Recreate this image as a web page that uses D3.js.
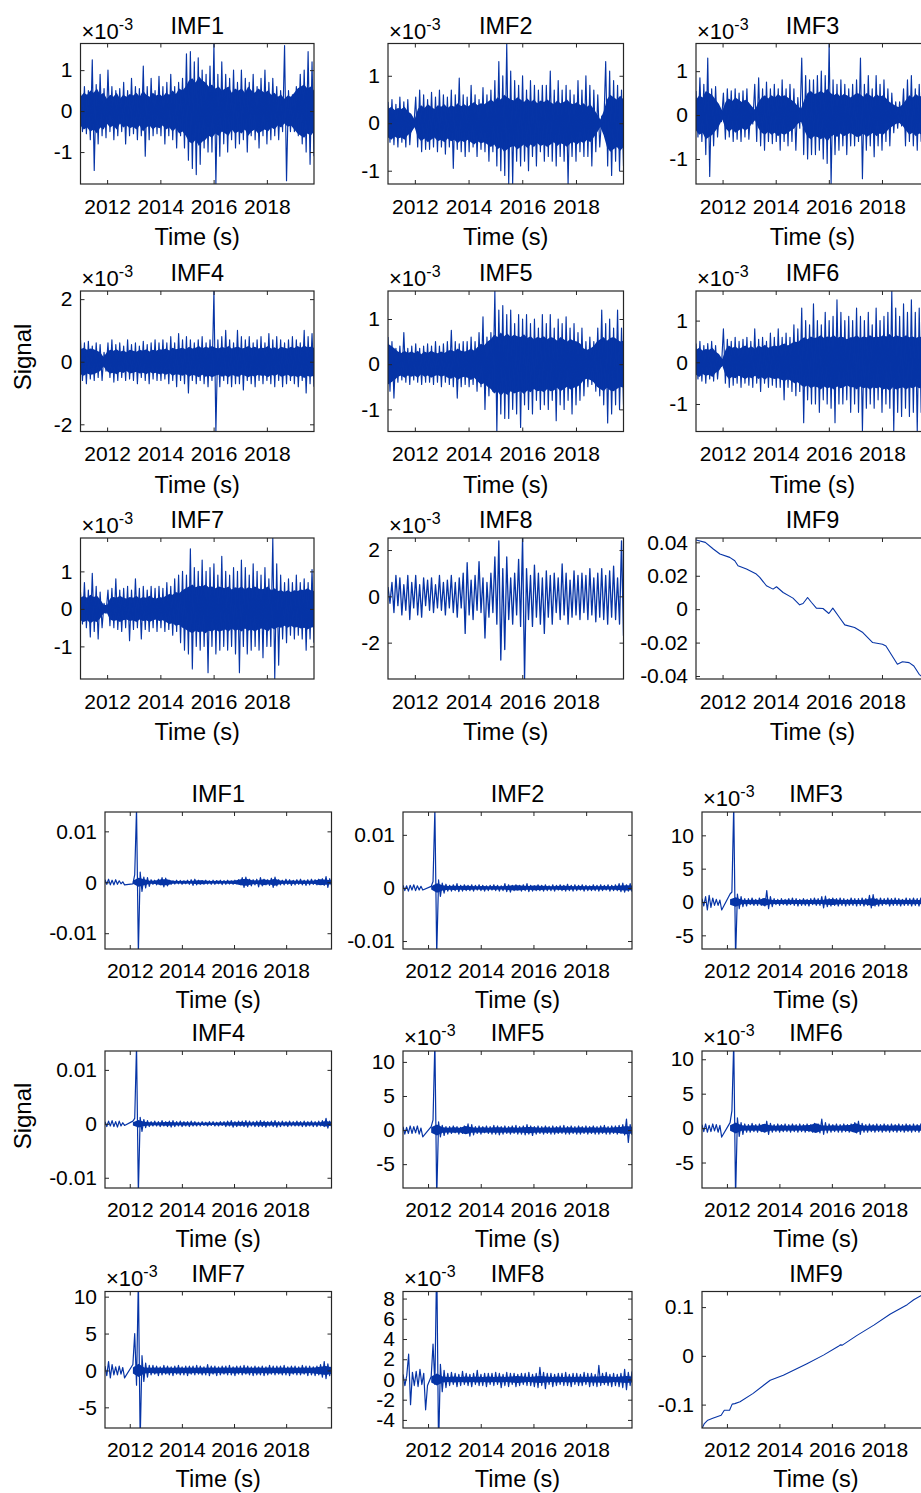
<!DOCTYPE html>
<html><head><meta charset="utf-8">
<script src="https://cdn.jsdelivr.net/npm/d3@7"></script>
<style>
body{margin:0;background:#fff}
text{font-family:"Liberation Sans",Arial,Helvetica,sans-serif;fill:#000}
</style>
</head><body>
<svg id="c" width="921" height="1493"></svg>
<script>
// ---------------- DATA ----------------
const xTickValues = [2012, 2014, 2016, 2018];
const xTickLabels = ["2012", "2014", "2016", "2018"];
const topRange = [2011.0, 2019.77];
const botRange = [2011.05, 2019.74];

// Top block (x10^-3 unless noted), evenly sampled over topRange: extremes (spikes) ...
const topIMF1 = [
 .45,-.5, .6,-.55, .5,-.7, 1.25,-1.45, .65,-.8, .9,-.6, .55,-.65, 1.0,-.5, .6,-.7, .5,-.6,
 .55,-.5, .7,-.8, .5,-.6, .8,-.55, .6,-.7, .55,-.6, 1.1,-1.1, .6,-.7, .8,-.6, .5,-.55,
 .85,-.6, .6,-.8, .7,-.6, .9,-.7, .6,-.9, .7,-.6, .8,-.9, 1.4,-1.2, 1.45,-1.4, 1.2,-1.55,
 1.3,-1.3, 1.0,-.9, .9,-1.0, 1.1,-1.0, 1.65,-1.78, .9,-1.1, 1.2,-.8, .9,-1.0, .8,-.7, 1.0,-.9,
 .7,-.8, 1.0,-.7, .8,-1.0, .7,-.6, .9,-.7, .6,-.9, .8,-.6, 1.0,-.8, .7,-.7, .8,-.6,
 .6,-.7, .5,-.5, 1.6,-1.7, .5,-.5, .4,-.5, .6,-.6, .9,-.8, 1.0,-1.0, 1.45,-1.3, 1.2,-1.1];
const topIMF2 = [
 .45,-.4, .5,-.45, .4,-.5, .55,-.4, .45,-.5, .5,-.45, .12,-.1, .55,-.5, .7,-.6, .6,-.55,
 .5,-.55, .65,-.5, .55,-.6, .7,-.5, .6,-.65, .55,-.5, .7,-.95, .6,-.55, .95,-.6, .6,-.7,
 .55,-.6, .8,-.5, .6,-.7, .5,-.55, .75,-.6, .6,-.8, .7,-.6, .9,-.9, 1.3,-1.0, 1.0,-1.1,
 1.68,-1.28, 1.1,-1.28, .9,-.8, .8,-.9, 1.0,-.8, .7,-1.0, .9,-.7, .8,-.9, .7,-.6, .8,-.8,
 .8,-.7, 1.1,-.8, .7,-.9, .9,-.7, .7,-.8, .8,-1.28, .7,-.7, .6,-.8, .9,-.6, .7,-.7,
 1.0,-.7, .8,-.9, .7,-.6, .6,-.5, .15,-.12, 1.3,-.9, 1.1,-1.1, .9,-.8, .8,-1.0, .7,-.9];
const topIMF3 = [
 .55,-.5, .85,-.6, .7,-.9, 1.3,-1.4, .6,-.7, .65,-.5, .15,-.15, .5,-.55, .6,-.5, .55,-.6,
 .6,-.55, .5,-.6, .55,-.5, .6,-.55, .2,-.2, .7,-.6, .85,-.7, .6,-.8, .75,-.6, .6,-.65,
 .7,-.6, .6,-.8, .8,-.6, .6,-.7, .7,-.6, .6,-.8, .4,-.3, 1.3,-.9, .9,-1.0, .8,-.9,
 .8,-.9, .9,-.8, 1.0,-1.0, .9,-1.1, 1.63,-1.57, .8,-.9, .7,-.8, .8,-.7, .7,-.9, .6,-.7,
 .7,-.7, .8,-.6, 1.3,-1.45, .7,-.8, .9,-.7, .6,-.95, .9,-.7, .7,-.8, .8,-.6, .6,-.7,
 .5,-.4, .3,-.3, .3,-.25, .6,-.7, .8,-.6, .9,-.7, .6,-.8, .7,-.6, .8,-.9, .7,-.7];
const topIMF4 = [
 .7,-.6, .6,-.7, .65,-.55, .5,-.6, .6,-.5, .55,-.6, .3,-.3, .6,-.5, .7,-.65, .55,-.6,
 .6,-.5, .5,-.6, .7,-.55, .55,-.6, .6,-.7, .5,-.5, .65,-.6, .55,-.7, .6,-.55, .7,-.6,
 .6,-.6, .7,-.55, .6,-.7, .8,-.6, .6,-.8, .9,-.6, .7,-.7, .8,-1.0, .7,-.6, .6,-.7,
 .7,-.6, .8,-.7, .6,-.8, .7,-.6, 2.26,-2.23, .7,-.8, .8,-.6, 1.0,-.7, .7,-.8, .6,-.7,
 1.0,-.7, .8,-.9, .7,-.6, .8,-.7, .6,-.8, .7,-.6, .8,-.7, .6,-.6, .9,-.7, .7,-.8,
 .8,-.6, .7,-.8, .6,-.7, .7,-.6, .8,-.7, .7,-.8, .6,-.6, 1.0,-1.0, .8,-.7, .9,-.8];
const topIMF5 = [
 .6,-.6, .5,-.75, .35,-.4, .4,-.35, .7,-.4, .35,-.45, .4,-.35, .45,-.4, .35,-.45, .4,-.4,
 .45,-.4, .4,-.45, .5,-.4, .4,-.5, .45,-.4, .5,-.45, .75,-.5, .5,-.75, .45,-.5, .5,-.45,
 .5,-.5, .6,-.45, .5,-.6, .7,-.5, 1.05,-1.0, .6,-.7, .7,-.6, 1.62,-1.49, 1.2,-1.1, 1.3,-1.2,
 1.1,-1.2, 1.2,-1.0, .9,-1.1, 1.1,-1.4, 1.0,-.9, 1.1,-1.0, .9,-1.1, 1.0,-.8, .8,-1.0, 1.1,-.9,
 .9,-1.0, 1.1,-.8, .8,-1.25, 1.0,-.9, .9,-1.0, 1.05,-.8, .8,-1.1, .9,-.9, .7,-.8, .8,-.7,
 .5,-.5, .6,-.45, .5,-.6, .8,-.7, 1.2,-.9, .9,-1.3, 1.0,-1.1, .8,-.9, 1.2,-1.0, .8,-.9];
const topIMF6 = [
 .45,-.4, .5,-.45, .4,-.5, .45,-.4, .5,-.45, .4,-.4, .12,-.1, .8,-.5, .55,-.6, .5,-.55,
 .6,-.5, .5,-.6, .55,-.5, .6,-.55, .5,-.6, .8,-.5, .55,-.7, .6,-.5, .5,-.6, .7,-.55,
 .6,-.6, .8,-.6, .6,-.9, .7,-.6, .6,-.7, .9,-.8, .8,-.7, 1.3,-1.45, 1.0,-.9, .9,-1.0,
 1.4,-1.0, 1.0,-1.2, .9,-.9, 1.2,-1.0, 1.0,-1.1, 1.1,-1.45, 1.5,-1.0, 1.2,-1.0, 1.0,-.9, 1.1,-1.2,
 1.0,-1.0, 1.3,-1.2, 1.1,-1.66, 1.0,-1.1, 1.2,-1.0, .9,-1.1, 1.3,-.9, 1.0,-1.2, 1.1,-1.0, 1.2,-1.1,
 1.71,-1.66, 1.3,-1.2, 1.1,-1.3, 1.4,-1.1, 1.2,-1.3, 1.5,-1.2, 1.2,-1.66, 1.3,-1.2, 1.0,-1.1, 1.2,-1.0];
const topIMF7 = [
 .45,-.4, .7,-.5, .5,-.75, .95,-.6, .6,-.8, .45,-.5, .15,-.12, .5,-.45, .55,-.5, .8,-.55,
 .5,-.6, .55,-.5, .6,-.85, .5,-.55, .8,-.5, .55,-.8, .6,-.55, .5,-.6, .6,-.5, .55,-.6,
 .6,-.5, .55,-.6, .7,-.55, .6,-.7, .8,-.6, .9,-.9, 1.0,-1.1, .9,-1.2, 1.6,-1.6, 1.1,-1.0,
 1.0,-1.1, 1.3,-1.0, 1.0,-1.7, 1.1,-1.0, 1.2,-1.2, .9,-1.1, 1.4,-1.0, 1.0,-1.1, .9,-1.0, 1.1,-1.2,
 1.0,-1.7, 1.3,-1.0, 1.1,-1.2, .9,-1.1, 1.2,-1.0, 1.0,-1.1, .9,-1.3, 1.1,-1.0, .8,-1.0, 1.89,-1.87,
 1.2,-1.5, .9,-.8, .7,-.9, .8,-.7, .7,-.8, .9,-.7, .7,-.8, .8,-1.1, .7,-.8, 1.05,-.9];
// ... and the half-width of the dense core band, every eighth of a year
const topIMF1Core = [.35,.45,.4,.5,.45,.55,.4,.45, .3,.4,.35,.45,.3,.4,.35,.42, .38,.45,.35,.5,.4,.35,.45,.38,
 .42,.35,.45,.4,.5,.42,.55,.5, .6,.75,.8,.7,.85,.75,.7,.6, .65,.55,.6,.5,.55,.6,.45,.55,
 .5,.55,.45,.6,.5,.45,.55,.5, .45,.5,.4,.45,.35,.4,.3,.38, .35,.45,.55,.6,.65,.55,.6,.5];
const topIMF2Core = [.3,.35,.28,.32,.3,.35,.25,.2, .08,.3,.38,.32,.4,.35,.3,.38, .35,.4,.32,.38,.35,.42,.36,.4,
 .35,.4,.45,.38,.42,.4,.45,.5, .45,.55,.5,.6,.55,.5,.48,.55, .5,.45,.52,.45,.5,.42,.48,.45,
 .5,.45,.4,.48,.42,.45,.5,.42, .4,.45,.38,.42,.35,.4,.3,.2, .08,.25,.5,.6,.55,.5,.58,.5];
const topIMF3Core = [.35,.45,.4,.55,.5,.45,.35,.25, .1,.3,.38,.32,.4,.35,.3,.35, .3,.2,.12,.3,.4,.45,.38,.45,
 .4,.48,.42,.45,.4,.35,.3,.2, .15,.35,.5,.55,.48,.5,.55,.5, .6,.5,.45,.5,.42,.48,.45,.4,
 .45,.5,.48,.42,.5,.45,.4,.48, .42,.45,.38,.3,.25,.2,.18,.25, .35,.45,.4,.48,.42,.45,.4,.45];
const topIMF4Core = [.4,.45,.38,.42,.4,.35,.3,.15, .3,.38,.35,.4,.32,.36,.3,.38, .35,.32,.38,.35,.4,.33,.38,.35,
 .4,.38,.42,.36,.45,.4,.42,.45, .4,.48,.42,.45,.5,.42,.48,.45, .5,.45,.42,.48,.44,.5,.42,.46,
 .48,.42,.45,.5,.44,.48,.42,.45, .44,.5,.42,.46,.4,.48,.45,.42, .48,.44,.5,.45,.52,.46,.48,.45];
const topIMF5Core = [.45,.4,.35,.28,.25,.3,.25,.28, .25,.3,.22,.28,.25,.3,.26,.24, .28,.25,.3,.32,.28,.35,.3,.28,
 .3,.35,.3,.38,.45,.42,.5,.55, .65,.6,.7,.62,.68,.6,.65,.62, .6,.66,.58,.62,.55,.6,.58,.62,
 .55,.6,.58,.52,.6,.55,.5,.56, .52,.5,.45,.35,.32,.35,.4,.5, .55,.6,.52,.58,.6,.55,.5,.52];
const topIMF6Core = [.3,.35,.28,.32,.3,.35,.25,.2, .08,.3,.4,.35,.38,.32,.36,.4, .35,.38,.32,.4,.36,.42,.35,.38,
 .4,.38,.42,.45,.4,.45,.5,.48, .55,.6,.55,.62,.58,.6,.65,.58, .62,.6,.65,.58,.62,.6,.55,.6,
 .6,.65,.58,.62,.6,.65,.6,.62, .6,.65,.62,.68,.6,.65,.62,.6, .65,.6,.62,.58,.62,.6,.65,.6];
const topIMF7Core = [.3,.35,.3,.38,.32,.35,.25,.12, .1,.28,.32,.3,.35,.3,.28,.32, .3,.35,.28,.32,.3,.35,.3,.28,
 .32,.3,.35,.4,.38,.45,.42,.5, .55,.6,.65,.58,.62,.6,.65,.58, .6,.55,.6,.58,.55,.6,.52,.58,
 .55,.6,.52,.58,.55,.6,.55,.52, .55,.6,.5,.55,.48,.5,.45,.5, .45,.5,.48,.52,.5,.55,.5,.48];
const topIMF8 = [
 .4,-.3, .6,-.7, .9,-.4, .8,-.8, .5,-.6, .9,-1.0, .6,-.5, .9,-.8, .5,-.9, .8,-.4,
 .7,-.6, .8,-.7, .5,-.5, .9,-.6, .6,-.8, .7,-.5, .9,-.7, .6,-.9, .8,-.5, 1.0,-1.6,
 1.45,-.8, .7,-1.0, .9,-.6, 1.5,-.7, .8,-1.8, .6,-.9, 1.0,-.7, 1.7,-1.2, 2.4,-2.75, 1.2,-2.3,
 1.7,-1.0, .8,-1.2, 1.0,-.8, 1.6,-1.3, 2.52,-3.57, 1.2,-1.0, .9,-1.3, 1.35,-.9, 1.0,-1.2, .8,-1.6,
 1.1,-.9, .9,-1.2, 1.0,-.7, .8,-1.0, 1.4,-.8, 1.0,-1.2, .7,-.9, 1.1,-.8, .9,-1.0, 1.0,-.7,
 .9,-1.0, 1.2,-.8, .8,-1.1, 1.0,-.9, 1.2,-1.0, .9,-1.2, 1.1,-.9, 1.3,-1.0, .8,-1.2, 2.4,-1.7];
const topIMF9Time = [2011.0, 2011.35, 2011.65, 2011.9, 2012.27, 2012.46, 2012.58, 2012.9, 2013.27, 2013.4,
 2013.65, 2013.9, 2014.03, 2014.28, 2014.65, 2014.9, 2015.03, 2015.2, 2015.35, 2015.53, 2015.78,
 2016.0, 2016.15, 2016.4, 2016.6, 2016.97, 2017.28, 2017.65, 2018.02, 2018.15, 2018.58, 2018.77,
 2019.02, 2019.2, 2019.4, 2019.77];
const topIMF9 = [0.0414, 0.040, 0.036, 0.033, 0.031, 0.029, 0.026, 0.024, 0.021, 0.019,
 0.014, 0.012, 0.0134, 0.010, 0.0066, 0.0026, 0.0034, 0.007, 0.004, 0.0006, 0.0004,
 -0.0026, 0.0006, -0.005, -0.0094, -0.011, -0.014, -0.020, -0.021, -0.022, -0.033, -0.0315,
 -0.032, -0.034, -0.039, -0.044];

// Bottom block (x10^-3), a short segment before the data gap and a long one after it
const botIMF1Pre = [.5,-.4, .6,-.5, .4,-.5, .5,-.4, .3,-.3, .1,-.5];
const botIMF1Post = [
 -.3, 1.5, 14.5, -14, 2.0, -1.8, 1.0, -1.1, .9, -.8,
 .5,-.4, .4,-.5, .6,-.5, .9,-.9, .8,-.7,
 .4,-.4, .3,-.35, .4,-.3, .35,-.4, .3,-.3,
 .4,-.4, .5,-.6, .6,-.5, .4,-.4, .35,-.4,
 .4,-.35, .3,-.4, .4,-.4, .35,-.3, .4,-.45,
 .35,-.4, .4,-.35, .3,-.4, .4,-.3, .5,-.45,
 .9,-1.0, 1.0,-.8, .6,-.7, .5,-.5, .6,-.9,
 .9,-.7, .6,-.5, .5,-.6, .8,-1.0, 1.0,-.7,
 .5,-.5, .4,-.5, .6,-.4, .5,-.6, .4,-.5,
 .5,-.4, .6,-.5, .4,-.6, .5,-.5, .6,-.4,
 .5,-.5, .6,-.4, .7,-.6, 1.1,-1.0, .7,-.6];
const botIMF2Pre = [.5,-.5, .4,-.6, .5,-.4, .6,-.5, .4,-.4, .3,-.4];
const botIMF2Post = [
 .3, 1.2, 14.8, -12.5, 1.5, -1.6, .9, -1.0, .7, -.6,
 .5,-.6, .6,-.5, .8,-.7, .5,-.6, .6,-.5,
 .5,-.5, .6,-.6, .5,-.4, .6,-.5, .5,-.6,
 .4,-.5, .5,-.4, .6,-.5, .5,-.6, .4,-.5,
 .8,-.7, .6,-.8, .5,-.5, .6,-.4, .5,-.6,
 .6,-.5, .8,-.7, .5,-.6, .4,-.5, .6,-.5,
 .5,-.6, .6,-.5, .4,-.5, .6,-.6, .5,-.4,
 .6,-.5, .5,-.6, .7,-.5, .5,-.6, .6,-.5,
 .5,-.4, .6,-.6, .5,-.5, .4,-.5, .6,-.5,
 .5,-.6, .6,-.5, .5,-.4, .6,-.6, .5,-.5,
 .6,-.5, .8,-.7, .9,-.8, .6,-.6, .8,-.7];
const botIMF3Pre = [.5,-.6, .8,-1.2, 1.0,-.8, .6,-.5, .4,-.5, .3,-1.2];
const botIMF3Post = [
 1.2, 1.5, 14.5, -8.5, 1.2, -1.0, .8, -.7, .5, -.6,
 .5,-.4, .6,-.5, .4,-.5, .6,-.5, .5,-.6,
 1.7,-1.0, .8,-.7, .5,-.4, .4,-.5, .5,-.4,
 .4,-.5, .5,-.4, .6,-.5, .5,-.6, .4,-.5,
 .5,-.5, .4,-.6, .5,-.4, .6,-.5, .5,-.5,
 .8,-.9, .9,-.7, .5,-.6, .6,-.5, .5,-.6,
 .6,-.5, .5,-.6, .4,-.5, .6,-.5, .5,-.6,
 .5,-.5, .6,-.6, .5,-.5, 1.0,-.9, 1.1,-.6,
 .5,-.6, .6,-.5, .5,-.4, .6,-.6, .5,-.5,
 .6,-.5, .5,-.6, .4,-.5, .6,-.5, .5,-.6,
 .6,-.5, .5,-.6, .6,-.5, 1.0,-.6, .6,-.5];
const botIMF4Pre = [.4,-.5, .5,-.4, .6,-.5, .4,-.6, .5,-.4, .2,-.3];
const botIMF4Post = [
 .5, 1.0, 14.5, -13, 1.2, -1.4, .8, -.7, .6, -.5,
 .4,-.4, .5,-.4, .4,-.5, .6,-.4, .4,-.5,
 .5,-.6, .6,-.5, .4,-.4, .5,-.5, .4,-.4,
 .4,-.5, .5,-.4, .4,-.4, .3,-.4, .4,-.3,
 .3,-.4, .4,-.3, .4,-.4, .3,-.4, .4,-.3,
 .4,-.5, .5,-.4, .6,-.6, .4,-.5, .5,-.4,
 .5,-.5, .6,-.6, .5,-.4, .4,-.5, .5,-.5,
 .6,-.5, .5,-.6, .4,-.4, .5,-.5, .6,-.6,
 .4,-.5, .5,-.4, .4,-.5, .5,-.4, .4,-.4,
 .5,-.4, .4,-.5, .5,-.5, .4,-.4, .5,-.5,
 .4,-.5, .5,-.4, .6,-.5, 1.0,-.8, .5,-.5];
const botIMF5Pre = [.5,-.6, .4,-.5, .6,-.5, .5,-.4, .6,-.6, .3,-1.0];
const botIMF5Post = [
 .5, 1.5, 13, -10, 1.2, -1.0, .7, -.8, .5, -.6,
 .5,-.5, .6,-.4, .5,-.6, .4,-.5, .6,-.5,
 .9,-.9, .8,-.7, .5,-.5, .6,-.6, .5,-.4,
 .6,-.5, .5,-.6, .7,-.6, .6,-.7, .5,-.6,
 .6,-.5, .5,-.6, .6,-.5, .7,-.6, .5,-.6,
 .6,-.7, .8,-.6, .6,-.8, .5,-.6, .6,-.5,
 .5,-.6, .6,-.5, .5,-.6, .6,-.6, .5,-.5,
 .6,-.5, .7,-.6, .5,-.6, .6,-.5, .5,-.6,
 .6,-.6, .5,-.5, .6,-.6, .5,-.5, .6,-.6,
 .5,-.6, .6,-.5, .7,-.6, .5,-.6, .6,-.5,
 .6,-.6, .7,-.5, .8,-.7, 1.6,-1.8, .8,-.7];
const botIMF6Pre = [.5,-.5, .6,-.6, .4,-.5, .6,-.4, .5,-.6, .4,-1.3];
const botIMF6Post = [
 .8, 2.5, 12.5, -10, 1.5, -1.2, .8, -.9, .6, -.6,
 .5,-.6, .7,-.5, .5,-.6, .6,-.5, .5,-.6,
 1.0,-.9, .7,-.6, .5,-.5, .6,-.6, .5,-.5,
 .6,-.5, .5,-.6, .6,-.5, .5,-.6, .6,-.5,
 .5,-.6, .6,-.5, .5,-.6, .7,-.5, .6,-.7,
 1.3,-.9, .8,-.7, .6,-.6, .5,-.5, .6,-.6,
 .5,-.6, .6,-.5, .5,-.6, .6,-.5, .8,-.7,
 1.0,-.9, .7,-.6, .5,-.6, .6,-.5, .5,-.6,
 .6,-.5, .5,-.6, .6,-.5, .5,-.6, .6,-.5,
 .5,-.6, .6,-.5, .5,-.6, .6,-.5, .5,-.6,
 .6,-.5, .5,-.6, .6,-.5, .5,-.6, .6,-.5];
const botIMF7Pre = [.6,-.7, 1.2,-1.0, .8,-.6, .5,-.6, .6,-.5, .4,-1.0];
const botIMF7Post = [
 .8, 5.0, -2.0, 12.5, -9.5, 2.0, -1.5, 1.0, -.9, .7,
 -.6,.7, -.5,.6, -.7,.5, -.6,.7, -.5,.6,
 -.6,.5, -.7,.6, -.5,.7, -.6,.5, -.6,.6,
 -.7,.6, -.5,.6, -.6,.7, -.5,.6, -.6,.5,
 -.6,.8, -.7,.6, -.5,.6, -.7,.5, -.6,.6,
 -.5,.6, -.6,.7, -.6,.5, -.7,.6, -.5,.6,
 -.6,.7, -.5,.6, -.6,.5, -.7,.6, -.6,.5,
 -.6,.6, -.7,.5, -.6,.7, -.5,.6, -.6,.6,
 -.5,.6, -.6,.7, -.6,.5, -.7,.6, -.5,.6,
 -.6,.5, -.6,.7, -.5,.6, -.7,.6, -.6,.5,
 -.7,.6, -.6,.8, -.9,1.2, -1.1,.9, -.7,.6];
const botIMF8Pre = [.5,-.6, .4,2.5, -2.5,.7, -.6,.8, -.7,1.0, -.5,.6, -3.0,-.6];
const botIMF8Post = [
 .3, 3.5, -.5, 12, -7, 1.5, -1.2, .9, -.8, .6,
 -.6,.7, -.5,.6, -.7,.5, -.6,.8, -.5,.6,
 -.6,.5, -.7,.6, -.5,.9, -.6,.5, -.6,.6,
 -.7,.6, -.5,.6, -.6,.7, -.5,.6, -.8,.5,
 -.6,.7, -.7,.6, -.5,.6, -.7,.5, -.6,.6,
 -.5,.6, -.6,.7, -.6,.5, -.7,.6, -.8,1.2,
 -.6,.7, -.9,.6, -.5,.6, -.7,.5, -.6,.6,
 -.5,.6, -.6,.7, -.6,.5, -.7,.6, -.5,.6,
 -.6,.5, -.6,.7, -.5,.6, -.7,.6, -.6,.5,
 -.7,1.4, -.6,.6, -.5,.7, -.6,.5, -.7,.6,
 -.6,.5, -.7,.6, -.8,1.0, -1.0,.7, -.6,.8];
// half-width of the dense core band after the gap (x10^-3)
const botIMF1Core = [.3,.9,.6,.3,.35,.6,.6,.3,.25,.3,.25,.35,.4,.3,.25,.3,.25,.3,.35,.6,.7,.4,.35,.6,.4,.7,.35,.3,.35,.3,.35,.3,.35,.6,.5,.4];
const botIMF2Core = [.3,.9,.5,.35,.4,.35,.4,.35,.3,.35,.3,.35,.3,.35,.45,.5,.4,.35,.45,.4,.35,.3,.35,.4,.35,.3,.35,.3,.35,.3,.35,.3,.35,.45,.5,.45];
const botIMF3Core = [.4,.7,.35,.3,.35,.3,.6,.35,.3,.3,.35,.3,.3,.35,.3,.35,.3,.4,.45,.35,.3,.35,.3,.3,.4,.6,.35,.3,.35,.3,.35,.3,.35,.3,.35,.3];
const botIMF4Core = [.3,.7,.4,.3,.25,.3,.35,.3,.25,.3,.25,.25,.2,.25,.2,.25,.25,.3,.3,.35,.3,.25,.3,.35,.3,.3,.25,.3,.25,.3,.25,.3,.25,.3,.5,.35];
const botIMF5Core = [.4,.8,.4,.35,.4,.35,.6,.4,.35,.4,.35,.4,.4,.35,.4,.35,.4,.45,.4,.35,.4,.35,.4,.35,.4,.35,.4,.35,.4,.35,.4,.35,.4,.45,.6,.5];
const botIMF6Core = [.4,.8,.4,.35,.4,.35,.65,.4,.35,.4,.35,.4,.35,.4,.45,.7,.4,.35,.4,.35,.4,.45,.7,.4,.35,.4,.35,.4,.35,.4,.35,.4,.35,.4,.35,.4];
const botIMF7Core = [.4,.9,.4,.35,.4,.35,.4,.35,.4,.35,.4,.35,.4,.35,.4,.35,.4,.35,.4,.35,.4,.35,.4,.35,.4,.35,.4,.35,.4,.35,.4,.35,.4,.5,.6,.45];
const botIMF8Core = [.3,.6,.3,.25,.3,.25,.3,.25,.3,.25,.3,.25,.3,.25,.3,.35,.3,.25,.3,.35,.3,.25,.3,.25,.3,.25,.3,.25,.3,.3,.35,.3,.25,.3,.35,.3];
const botIMF9Time = [2011.05, 2011.14, 2011.27, 2011.46, 2011.78, 2011.9, 2012.1, 2012.2, 2012.3, 2012.5,
 2013.0, 2013.65, 2014.15, 2015.05, 2015.68, 2016.25, 2016.32, 2016.4, 2016.96, 2017.6, 2018.23,
 2018.87, 2019.12, 2019.42, 2019.74];
const botIMF9 = [-0.149, -0.139, -0.132, -0.128, -0.122, -0.1115, -0.1115, -0.099, -0.098, -0.094,
 -0.077, -0.050, -0.040, -0.016, 0.0015, 0.0195, 0.0225, 0.022, 0.042, 0.063, 0.086,
 0.105, 0.115, 0.124, 0.132];

// ---------------- PANELS ----------------
const panels = [
 {b:0,r:0,c:0,title:"IMF1",exp:true,dom:[-1.78,1.65],yt:[-1,0,1],v:topIMF1,core:topIMF1Core},
 {b:0,r:0,c:1,title:"IMF2",exp:true,dom:[-1.28,1.68],yt:[-1,0,1],v:topIMF2,core:topIMF2Core},
 {b:0,r:0,c:2,title:"IMF3",exp:true,dom:[-1.57,1.63],yt:[-1,0,1],v:topIMF3,core:topIMF3Core},
 {b:0,r:1,c:0,title:"IMF4",exp:true,dom:[-2.23,2.26],yt:[-2,0,2],v:topIMF4,core:topIMF4Core},
 {b:0,r:1,c:1,title:"IMF5",exp:true,dom:[-1.49,1.62],yt:[-1,0,1],v:topIMF5,core:topIMF5Core},
 {b:0,r:1,c:2,title:"IMF6",exp:true,dom:[-1.66,1.71],yt:[-1,0,1],v:topIMF6,core:topIMF6Core},
 {b:0,r:2,c:0,title:"IMF7",exp:true,dom:[-1.87,1.89],yt:[-1,0,1],v:topIMF7,core:topIMF7Core},
 {b:0,r:2,c:1,title:"IMF8",exp:true,dom:[-3.57,2.52],yt:[-2,0,2],v:topIMF8,sw:1.3},
 {b:0,r:2,c:2,title:"IMF9",exp:false,dom:[-0.0418,0.0426],yt:[-0.04,-0.02,0,0.02,0.04],v:topIMF9,t:topIMF9Time,sw:1.1},
 {b:1,r:0,c:0,title:"IMF1",exp:false,dom:[-0.0131,0.0138],yt:[-0.01,0,0.01],pre:botIMF1Pre,post:botIMF1Post,core:botIMF1Core,f:0.001},
 {b:1,r:0,c:1,title:"IMF2",exp:false,dom:[-0.0115,0.0143],yt:[-0.01,0,0.01],pre:botIMF2Pre,post:botIMF2Post,core:botIMF2Core,f:0.001},
 {b:1,r:0,c:2,title:"IMF3",exp:true,dom:[-7.05,13.5],yt:[-5,0,5,10],pre:botIMF3Pre,post:botIMF3Post,core:botIMF3Core},
 {b:1,r:1,c:0,title:"IMF4",exp:false,dom:[-0.0119,0.0135],yt:[-0.01,0,0.01],pre:botIMF4Pre,post:botIMF4Post,core:botIMF4Core,f:0.001},
 {b:1,r:1,c:1,title:"IMF5",exp:true,dom:[-8.5,11.6],yt:[-5,0,5,10],pre:botIMF5Pre,post:botIMF5Post,core:botIMF5Core},
 {b:1,r:1,c:2,title:"IMF6",exp:true,dom:[-8.7,11.2],yt:[-5,0,5,10],pre:botIMF6Pre,post:botIMF6Post,core:botIMF6Core},
 {b:1,r:2,c:0,title:"IMF7",exp:true,dom:[-7.8,10.7],yt:[-5,0,5,10],pre:botIMF7Pre,post:botIMF7Post,core:botIMF7Core},
 {b:1,r:2,c:1,title:"IMF8",exp:true,dom:[-4.8,8.7],yt:[-4,-2,0,2,4,6,8],pre:botIMF8Pre,post:botIMF8Post,core:botIMF8Core,preEnd:2011.98},
 {b:1,r:2,c:2,title:"IMF9",exp:false,dom:[-0.148,0.132],yt:[-0.1,0,0.1],v:botIMF9,t:botIMF9Time,sw:1.1}
];

// ---------------- LAYOUT ----------------
const cols = [[[80.5,314],[388,623.5],[696,929]], [[105,331.5],[403,632],[702,930]]];
const rows = [[[43.5,184],[291,431.5],[538,679]], [[812,949],[1051,1188],[1291.5,1428]]];
const lineColor = "#0634a6", axisColor = "#262626";
const tickFont = 21, labelFont = 23.5;
const postStart = 2012.12;

const svg = d3.select("#c");
svg.append("rect").attr("width",921).attr("height",1493).attr("fill","#fff");

function evenTimes(n, a, b){ return d3.range(n).map(i => a + i*(b-a)/(n-1)); }

panels.forEach((p, idx) => {
  const [L,R] = cols[p.b][p.c], [T,B] = rows[p.b][p.r];
  const xr = p.b === 0 ? topRange : botRange;
  const x = d3.scaleLinear().domain(xr).range([L,R]);
  const y = d3.scaleLinear().domain(p.dom).range([B,T]);
  const f = p.f || 1;
  let pts;
  if (p.t) pts = p.t.map((t,i) => [t, p.v[i]]);
  else if (p.pre) {
    const preEnd = p.preEnd || 2011.8;
    const tp = evenTimes(p.pre.length, xr[0], preEnd);
    const tq = evenTimes(p.post.length, postStart, xr[1]);
    pts = p.pre.map((v,i)=>[tp[i], v*f]).concat(p.post.map((v,i)=>[tq[i], v*f]));
  } else {
    const tt = evenTimes(p.v.length, xr[0], xr[1]);
    pts = p.v.map((v,i)=>[tt[i], v*f]);
  }
  const g = svg.append("g");
  const cid = "clip"+idx;
  svg.append("clipPath").attr("id",cid).append("rect")
     .attr("x",L).attr("y",T).attr("width",R-L).attr("height",B-T);
  if (p.core) {
    const tc = evenTimes(p.core.length, p.pre ? postStart : xr[0], xr[1]);
    g.append("path").datum(p.core.map((c,i)=>[tc[i], c*f]))
      .attr("clip-path",`url(#${cid})`)
      .attr("fill",lineColor)
      .attr("d", d3.area().x(d=>x(d[0])).y0(d=>y(-d[1])).y1(d=>y(d[1])));
  }
  g.append("path").datum(pts)
    .attr("clip-path",`url(#${cid})`)
    .attr("fill","none").attr("stroke",lineColor)
    .attr("stroke-width",p.sw || (p.b===0 ? 1.15 : 1.2)).attr("stroke-linejoin","round")
    .attr("d", d3.line().x(d=>x(d[0])).y(d=>y(d[1])));

  const tl = 4;
  const fmt = d => String(d);
  const ax = g.append("g").attr("transform",`translate(0,${B})`)
    .call(d3.axisBottom(x).tickValues(xTickValues).tickFormat((d,i)=>xTickLabels[i])
      .tickSizeInner(-tl).tickSizeOuter(0).tickPadding(p.b===0?15:14));
  const ay = g.append("g").attr("transform",`translate(${L},0)`)
    .call(d3.axisLeft(y).tickValues(p.yt).tickFormat(fmt).tickSizeInner(-tl).tickSizeOuter(0).tickPadding(8));
  const axT = g.append("g").attr("transform",`translate(0,${T})`)
    .call(d3.axisTop(x).tickValues(xTickValues).tickFormat("").tickSizeInner(-tl).tickSizeOuter(0));
  const ayR = g.append("g").attr("transform",`translate(${R},0)`)
    .call(d3.axisRight(y).tickValues(p.yt).tickFormat("").tickSizeInner(-tl).tickSizeOuter(0));
  [ax,ay,axT,ayR].forEach(a => {
    a.select(".domain").remove();
    a.selectAll("line").attr("stroke",axisColor).attr("stroke-width",1);
    a.selectAll("text").attr("font-size",tickFont)
      .attr("font-family",'"Liberation Sans",Arial,sans-serif').attr("fill","#000");
  });
  g.append("rect").attr("x",L).attr("y",T).attr("width",R-L).attr("height",B-T)
    .attr("fill","none").attr("stroke",axisColor).attr("stroke-width",1.2);

  g.append("text").attr("x",(L+R)/2).attr("y",T-10).attr("text-anchor","middle")
    .attr("font-size",labelFont).text(p.title);
  g.append("text").attr("x",(L+R)/2).attr("y",B+(p.b===0?61:59)).attr("text-anchor","middle")
    .attr("font-size",labelFont).text("Time (s)");
  if (p.exp) {
    const e = g.append("text").attr("x",L+1).attr("y",T-(p.b===0?5:6)).attr("font-size",22);
    e.append("tspan").text("\u00d710");
    e.append("tspan").attr("dy",-9).attr("font-size",16).text("-3");
  }
});

[357, 1116].forEach(cy => {
  svg.append("text").attr("transform",`translate(31,${cy}) rotate(-90)`)
    .attr("text-anchor","middle").attr("font-size",24).text("Signal");
});
</script>
</body></html>
